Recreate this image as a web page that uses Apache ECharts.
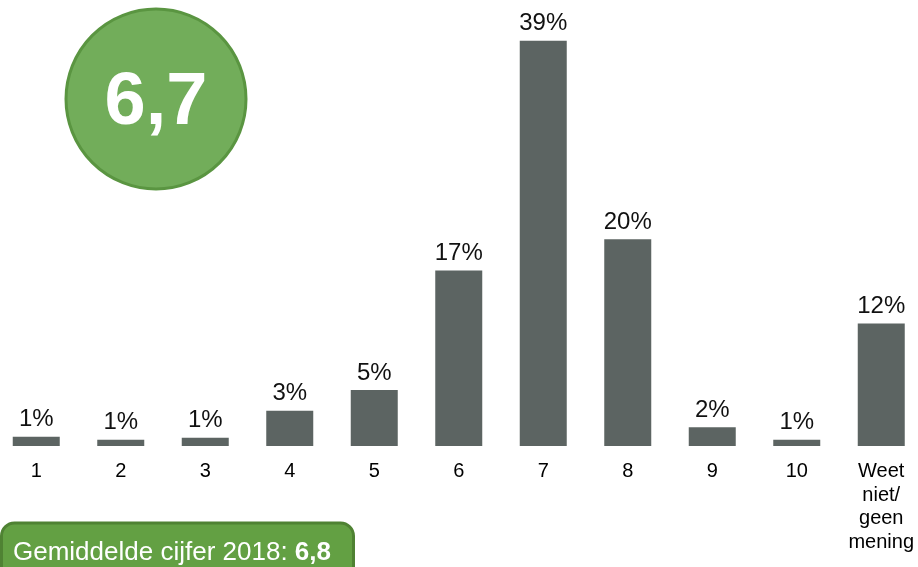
<!DOCTYPE html>
<html>
<head>
<meta charset="utf-8">
<script src="https://cdn.jsdelivr.net/npm/echarts@6/dist/echarts.min.js"></script>
<style>html,body{margin:0;padding:0;background:#fff;overflow:hidden;width:918px;height:567px;}#c{width:930px;height:567px;margin-left:-6px;}</style>
</head>
<body>
<div id="c"></div>
<script>
const categories = ['1','2','3','4','5','6','7','8','9','10','Weet\nniet/\ngeen\nmening'];
const values = [0.9, 0.6, 0.8, 3.4, 5.4, 16.9, 39, 19.9, 1.8, 0.6, 11.8];
const labels = ['1%','1%','1%','3%','5%','17%','39%','20%','2%','1%','12%'];
const averageScore = '6,7';
const previousText = 'Gemiddelde cijfer 2018: ';
const previousScore = '6,8';

const OX = 6; // container offset
const chart = echarts.init(document.getElementById('c'), null, {renderer: 'canvas'});
chart.setOption({
  animation: false,
  backgroundColor: '#ffffff',
  textStyle: {fontFamily: 'Liberation Sans, Arial, sans-serif'},
  grid: {left: 0, right: 0.5, top: 30.4, bottom: 121, containLabel: false},
  xAxis: {
    type: 'category',
    data: categories,
    axisLine: {show: false},
    axisTick: {show: false},
    axisLabel: {color: '#000', fontSize: 20, lineHeight: 23.5, margin: 14, interval: 0,
      fontFamily: 'Liberation Sans, Arial, sans-serif'}
  },
  yAxis: {type: 'value', min: 0, max: 40, show: false, splitLine: {show: false}},
  series: [{
    type: 'bar',
    data: values,
    barWidth: 47,
    itemStyle: {color: '#5C6462'},
    label: {
      show: true, position: 'top', distance: 5, color: '#111', fontSize: 24,
      fontFamily: 'Liberation Sans, Arial, sans-serif',
      formatter: p => labels[p.dataIndex]
    }
  }],
  graphic: [
    {type: 'circle', shape: {cx: 156 + OX, cy: 99, r: 90}, style: {fill: '#72AD5A', stroke: '#5A9541', lineWidth: 3}, z: 10},
    {type: 'text', x: 156 + OX, y: 104, style: {text: averageScore, fill: '#fff', font: 'bold 74px "Liberation Sans", Arial, sans-serif', textAlign: 'center', textVerticalAlign: 'middle'}, z: 11},
    {type: 'rect', shape: {x: 1.5 + OX, y: 523, width: 352, height: 70, r: 13}, style: {fill: '#63A043', stroke: '#4F8233', lineWidth: 3}, z: 10},
    {type: 'text', x: 13 + OX, y: 553, style: {
      rich: {n: {fontSize: 26, fill: '#fff', fontFamily: 'Liberation Sans, Arial, sans-serif'}, b: {fontSize: 26, fill: '#fff', fontWeight: 'bold', fontFamily: 'Liberation Sans, Arial, sans-serif'}},
      text: '{n|' + previousText + '}{b|' + previousScore + '}', textVerticalAlign: 'middle'}, z: 11}
  ]
});
</script>
</body>
</html>
